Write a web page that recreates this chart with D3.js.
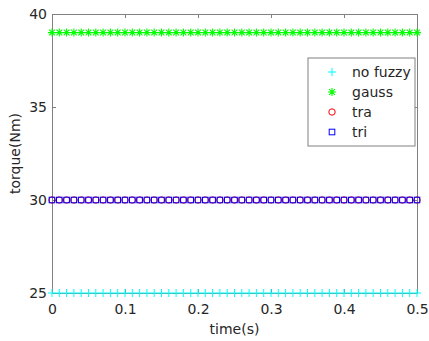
<!DOCTYPE html>
<html>
<head>
<meta charset="utf-8">
<script src="https://cdn.jsdelivr.net/npm/d3@7"></script>
<style>
  body{margin:0;background:#fff;}
  text{font-family:"DejaVu Sans",sans-serif;}
</style>
</head>
<body>
<script>
// sample times (s)
var times=[0,0.01,0.02,0.03,0.04,0.05,0.06,0.07,0.08,0.09,
  0.1,0.11,0.12,0.13,0.14,0.15,0.16,0.17,0.18,0.19,
  0.2,0.21,0.22,0.23,0.24,0.25,0.26,0.27,0.28,0.29,
  0.3,0.31,0.32,0.33,0.34,0.35,0.36,0.37,0.38,0.39,
  0.4,0.41,0.42,0.43,0.44,0.45,0.46,0.47,0.48,0.49,0.5];

var noFuzzy=[25,25,25,25,25,25,25,25,25,25,25,25,25,25,25,25,25,25,25,25,25,25,25,25,25,25,25,25,25,25,25,25,25,25,25,25,25,25,25,25,25,25,25,25,25,25,25,25,25,25,25];
var gauss=[39,39,39,39,39,39,39,39,39,39,39,39,39,39,39,39,39,39,39,39,39,39,39,39,39,39,39,39,39,39,39,39,39,39,39,39,39,39,39,39,39,39,39,39,39,39,39,39,39,39,39];
var tra=[30,30,30,30,30,30,30,30,30,30,30,30,30,30,30,30,30,30,30,30,30,30,30,30,30,30,30,30,30,30,30,30,30,30,30,30,30,30,30,30,30,30,30,30,30,30,30,30,30,30,30];
var tri=[30,30,30,30,30,30,30,30,30,30,30,30,30,30,30,30,30,30,30,30,30,30,30,30,30,30,30,30,30,30,30,30,30,30,30,30,30,30,30,30,30,30,30,30,30,30,30,30,30,30,30];

var xTicks=[0,0.1,0.2,0.3,0.4,0.5];
var yTicks=[25,30,35,40];

var seriesList=[
  {name:"no fuzzy",values:noFuzzy,marker:"plus",color:"#00ffff"},
  {name:"gauss",values:gauss,marker:"star",color:"#00ff00"},
  {name:"tra",values:tra,marker:"circle",color:"#ff0000"},
  {name:"tri",values:tri,marker:"square",color:"#0000ff"}
];

var W=429,H=341;
var margin={top:14,right:12,bottom:48,left:52};
var width=W-margin.left-margin.right,
    height=H-margin.top-margin.bottom;

var svg=d3.select("body").append("svg")
  .attr("width",W).attr("height",H);

var g=svg.append("g").attr("transform","translate("+margin.left+","+margin.top+")");

var x=d3.scaleLinear().domain([0,0.5]).range([0,width]);
var y=d3.scaleLinear().domain([25,40]).range([height,0]);

var axisColor="#808080",textColor="#262626";

// axes, ticks pointing in (box on all sides)
var xAxis=g.append("g").attr("transform","translate(0,"+height+")")
  .call(d3.axisBottom(x).tickValues(xTicks).tickSizeInner(-4).tickSizeOuter(0).tickPadding(11)
    .tickFormat(function(d){return d===0?"0":d3.format(".1f")(d);}));
var xAxisTop=g.append("g")
  .call(d3.axisTop(x).tickValues(xTicks).tickSizeInner(-4).tickSizeOuter(0).tickFormat(""));
var yAxis=g.append("g")
  .call(d3.axisLeft(y).tickValues(yTicks).tickSizeInner(-4).tickSizeOuter(0).tickPadding(5));
var yAxisRight=g.append("g").attr("transform","translate("+width+",0)")
  .call(d3.axisRight(y).tickValues(yTicks).tickSizeInner(-4).tickSizeOuter(0).tickFormat(""));

[xAxis,xAxisTop,yAxis,yAxisRight].forEach(function(a){
  a.selectAll("path,line").attr("stroke",axisColor);
  a.selectAll("text").attr("fill",textColor).style("font-size","14px");
});

// markers like matlab's + * o s
function drawMarker(sel,type,color,s){
  if(type==="plus"){
    sel.append("path").attr("d","M"+(-s)+",0H"+s+"M0,"+(-s)+"V"+s)
      .attr("stroke",color).attr("stroke-width",1).attr("fill","none");
  }else if(type==="star"){
    var d2=s*0.72;
    sel.append("path").attr("d","M"+(-s)+",0H"+s+"M0,"+(-s)+"V"+s+
        "M"+(-d2)+","+(-d2)+"L"+d2+","+d2+"M"+(-d2)+","+d2+"L"+d2+","+(-d2))
      .attr("stroke",color).attr("stroke-width",1.1).attr("fill","none");
  }else if(type==="circle"){
    sel.append("circle").attr("r",s*0.8)
      .attr("stroke",color).attr("stroke-width",1).attr("fill","none");
  }else if(type==="square"){
    sel.append("rect").attr("x",-s*0.7).attr("y",-s*0.7).attr("width",s*1.4).attr("height",s*1.4)
      .attr("stroke",color).attr("stroke-width",1).attr("fill","none");
  }
}

seriesList.forEach(function(sr){
  var pts=g.append("g").selectAll("g").data(times).enter().append("g")
    .attr("transform",function(t,i){return "translate("+x(t)+","+y(sr.values[i])+")";});
  pts.each(function(){drawMarker(d3.select(this),sr.marker,sr.color,4);});
});

// axis labels
svg.append("text").attr("x",margin.left+width/2).attr("y",334)
  .attr("text-anchor","middle").attr("fill",textColor).style("font-size","14px").text("time(s)");
svg.append("text").attr("transform","translate(20,"+(margin.top+height/2)+") rotate(-90)")
  .attr("text-anchor","middle").attr("fill",textColor).style("font-size","14px").text("torque(Nm)");

// legend
var lg=svg.append("g").attr("transform","translate(308,58)");
lg.append("rect").attr("width",107).attr("height",88)
  .attr("fill","#fff").attr("stroke","#808080").attr("stroke-width",1);
seriesList.forEach(function(sr,i){
  var row=lg.append("g").attr("transform","translate(24,"+(14+i*20)+")");
  drawMarker(row,sr.marker,sr.color,4);
  row.append("text").attr("x",20).attr("y",5).attr("fill",textColor)
    .style("font-size","14px").text(sr.name);
});
</script>
</body>
</html>
